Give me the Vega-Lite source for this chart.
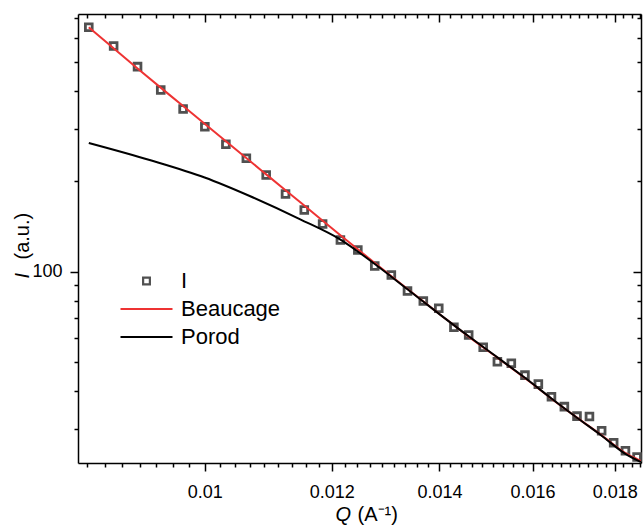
{
  "$schema": "https://vega.github.io/schema/vega-lite/v6.json",
  "width": 563,
  "height": 449,
  "autosize": {"type": "none"},
  "padding": {"left": 78, "top": 14, "right": 2, "bottom": 63},
  "background": "white",
  "config": {
    "view": {"stroke": null},
    "axis": {
      "domainColor": "black", "domainWidth": 1.5, "tickColor": "black", "tickWidth": 1.5,
      "labelFont": "Liberation Sans", "labelFontSize": 18, "labelColor": "black",
      "titleFont": "Liberation Sans", "titleFontSize": 20, "titleColor": "black", "titleFontWeight": "normal",
      "grid": false, "labelOverlap": false, "labelFlush": false, "labelBound": false
    },
    "legend": {"labelFont": "Liberation Sans", "labelFontSize": 22, "labelColor": "black"}
  },
  "data": {"values": [
    {"series": "I", "q": 0.00847, "i": 652.7},
    {"series": "I", "q": 0.008777, "i": 565.4},
    {"series": "I", "q": 0.009083, "i": 482.5},
    {"series": "I", "q": 0.00939, "i": 403.4},
    {"series": "I", "q": 0.009696, "i": 348.6},
    {"series": "I", "q": 0.010003, "i": 304.3},
    {"series": "I", "q": 0.010309, "i": 265.9},
    {"series": "I", "q": 0.010616, "i": 238.8},
    {"series": "I", "q": 0.010922, "i": 210.1},
    {"series": "I", "q": 0.011229, "i": 181.6},
    {"series": "I", "q": 0.011535, "i": 160.6},
    {"series": "I", "q": 0.011842, "i": 144.2},
    {"series": "I", "q": 0.012148, "i": 127.5},
    {"series": "I", "q": 0.012455, "i": 118.1},
    {"series": "I", "q": 0.012761, "i": 104.5},
    {"series": "I", "q": 0.013068, "i": 97.5},
    {"series": "I", "q": 0.013374, "i": 86.2},
    {"series": "I", "q": 0.013681, "i": 79.9},
    {"series": "I", "q": 0.013987, "i": 75.5},
    {"series": "I", "q": 0.014294, "i": 65.3},
    {"series": "I", "q": 0.0146, "i": 61.5},
    {"series": "I", "q": 0.014907, "i": 56.0},
    {"series": "I", "q": 0.015213, "i": 50.1},
    {"series": "I", "q": 0.01552, "i": 49.5},
    {"series": "I", "q": 0.015826, "i": 45.2},
    {"series": "I", "q": 0.016133, "i": 42.2},
    {"series": "I", "q": 0.016439, "i": 38.3},
    {"series": "I", "q": 0.016746, "i": 35.5},
    {"series": "I", "q": 0.017052, "i": 33.0},
    {"series": "I", "q": 0.017359, "i": 32.9},
    {"series": "I", "q": 0.017665, "i": 29.5},
    {"series": "I", "q": 0.017972, "i": 26.9},
    {"series": "I", "q": 0.018278, "i": 25.3},
    {"series": "I", "q": 0.018585, "i": 24.1},
    {"series": "Beaucage", "q": 0.00847, "i": 652.7},
    {"series": "Beaucage", "q": 0.009083, "i": 475.7},
    {"series": "Beaucage", "q": 0.009696, "i": 356.5},
    {"series": "Beaucage", "q": 0.010309, "i": 272.1},
    {"series": "Beaucage", "q": 0.010922, "i": 211.1},
    {"series": "Beaucage", "q": 0.011535, "i": 166.1},
    {"series": "Beaucage", "q": 0.012148, "i": 132.3},
    {"series": "Beaucage", "q": 0.012761, "i": 106.9},
    {"series": "Beaucage", "q": 0.013374, "i": 87.6},
    {"series": "Beaucage", "q": 0.013987, "i": 72.6},
    {"series": "Beaucage", "q": 0.0146, "i": 60.75},
    {"series": "Beaucage", "q": 0.015213, "i": 51.7},
    {"series": "Beaucage", "q": 0.015826, "i": 44.2},
    {"series": "Beaucage", "q": 0.016439, "i": 37.73},
    {"series": "Beaucage", "q": 0.017052, "i": 32.63},
    {"series": "Beaucage", "q": 0.017665, "i": 28.47},
    {"series": "Beaucage", "q": 0.018278, "i": 24.83},
    {"series": "Beaucage", "q": 0.01869, "i": 23.39},
    {"series": "Porod", "q": 0.00847, "i": 268.6},
    {"series": "Porod", "q": 0.009242, "i": 235.7},
    {"series": "Porod", "q": 0.01, "i": 206.1},
    {"series": "Porod", "q": 0.010667, "i": 178.8},
    {"series": "Porod", "q": 0.01146, "i": 149.8},
    {"series": "Porod", "q": 0.012148, "i": 128.0},
    {"series": "Porod", "q": 0.012761, "i": 106.1},
    {"series": "Porod", "q": 0.013374, "i": 87.4},
    {"series": "Porod", "q": 0.013987, "i": 72.5},
    {"series": "Porod", "q": 0.0146, "i": 60.9},
    {"series": "Porod", "q": 0.015213, "i": 51.8},
    {"series": "Porod", "q": 0.015826, "i": 44.3},
    {"series": "Porod", "q": 0.016439, "i": 37.8},
    {"series": "Porod", "q": 0.017052, "i": 32.6},
    {"series": "Porod", "q": 0.017665, "i": 28.4},
    {"series": "Porod", "q": 0.018278, "i": 24.7},
    {"series": "Porod", "q": 0.01869, "i": 23.2}
  ]},
  "layer": [
    {
      "transform": [{"filter": "datum.series === 'I'"}],
      "mark": {"type": "point", "filled": false, "strokeWidth": 2.8, "size": 2704, "opacity": 1, "clip": false},
      "encoding": {
        "x": {
          "field": "q", "type": "quantitative",
          "scale": {"type": "log", "domain": [0.00834, 0.01869], "nice": false},
          "axis": {
            "orient": "bottom",
            "values": [0.008444, 0.008667, 0.008889, 0.009111, 0.009333, 0.009556, 0.009778, 0.01, 0.010222, 0.010444, 0.010667, 0.010889, 0.011111, 0.011333, 0.011556, 0.011778, 0.012, 0.012222, 0.012444, 0.012667, 0.012889, 0.013111, 0.013333, 0.013556, 0.013778, 0.014, 0.014222, 0.014444, 0.014667, 0.014889, 0.015111, 0.015333, 0.015556, 0.015778, 0.016, 0.016222, 0.016444, 0.016667, 0.016889, 0.017111, 0.017333, 0.017556, 0.017778, 0.018, 0.018222, 0.018444, 0.018667],
            "labelExpr": "indexof([0.01,0.012,0.014,0.016,0.018], datum.value) >= 0 ? format(datum.value, '~g') : ''",
            "tickSize": {"condition": {"test": "indexof([0.01,0.012,0.014,0.016,0.018], datum.value) >= 0", "value": 8}, "value": 4},
            "labelPadding": 12,
            "title": "(A⁻¹)", "titleX": 279, "titleY": 57, "titleAlign": "left", "titleBaseline": "alphabetic"
          }
        },
        "y": {
          "field": "i", "type": "quantitative",
          "scale": {"type": "log", "domain": [23.03, 722.8], "nice": false},
          "axis": {
            "orient": "left",
            "values": [30, 40, 50, 60, 70, 80, 90, 100, 200, 300, 400, 500, 600, 700],
            "labelExpr": "datum.value == 100 ? '100' : ''",
            "tickSize": {"condition": {"test": "datum.value == 100", "value": 8}, "value": 4},
            "labelPadding": 8,
            "title": "(a.u.)", "titleX": -50, "titleY": 245, "titleAngle": 270, "titleAlign": "left", "titleBaseline": "alphabetic"
          }
        },
        "color": {
          "field": "series", "type": "nominal",
          "scale": {"domain": ["I", "Beaucage", "Porod"], "range": ["#505050", "#ee3333", "#000000"]},
          "legend": {
            "title": null, "orient": "none", "legendX": 41, "legendY": 253,
            "symbolSize": 2704, "clipHeight": 28, "rowPadding": 0, "padding": 0, "labelOffset": 7,
            "symbolStrokeWidth": 2.2, "symbolOpacity": 1
          }
        },
        "shape": {
          "field": "series", "type": "nominal",
          "scale": {"domain": ["I", "Beaucage", "Porod"], "range": ["M-0.13,-0.13H0.13V0.13H-0.13Z", "M-1,0H1", "M-1,0H1"]},
          "legend": {
            "title": null, "orient": "none", "legendX": 41, "legendY": 253,
            "symbolSize": 2704, "clipHeight": 28, "rowPadding": 0, "padding": 0, "labelOffset": 7,
            "symbolStrokeWidth": 2.2, "symbolOpacity": 1
          }
        }
      }
    },
    {
      "transform": [{"filter": "datum.series === 'Beaucage'"}],
      "mark": {"type": "line", "strokeWidth": 2, "interpolate": "monotone", "clip": true},
      "encoding": {
        "x": {
          "field": "q", "type": "quantitative",
          "scale": {"type": "log", "domain": [0.00834, 0.01869], "nice": false},
          "axis": {
            "orient": "top", "labels": false,
            "values": [0.008444, 0.008667, 0.008889, 0.009111, 0.009333, 0.009556, 0.009778, 0.01, 0.010222, 0.010444, 0.010667, 0.010889, 0.011111, 0.011333, 0.011556, 0.011778, 0.012, 0.012222, 0.012444, 0.012667, 0.012889, 0.013111, 0.013333, 0.013556, 0.013778, 0.014, 0.014222, 0.014444, 0.014667, 0.014889, 0.015111, 0.015333, 0.015556, 0.015778, 0.016, 0.016222, 0.016444, 0.016667, 0.016889, 0.017111, 0.017333, 0.017556, 0.017778, 0.018, 0.018222, 0.018444, 0.018667],
            "tickSize": {"condition": {"test": "indexof([0.01,0.012,0.014,0.016,0.018], datum.value) >= 0", "value": -8}, "value": -4},
            "title": "Q", "titleFontStyle": "italic", "titleX": 257, "titleY": 506, "titleAlign": "left", "titleBaseline": "alphabetic"
          }
        },
        "y": {
          "field": "i", "type": "quantitative",
          "scale": {"type": "log", "domain": [23.03, 722.8], "nice": false},
          "axis": {
            "orient": "right", "labels": false,
            "values": [30, 40, 50, 60, 70, 80, 90, 100, 200, 300, 400, 500, 600, 700],
            "tickSize": {"condition": {"test": "datum.value == 100", "value": -8}, "value": -4},
            "title": "I", "titleFontStyle": "italic", "titleX": -613, "titleY": 264, "titleAngle": 270, "titleAlign": "left", "titleBaseline": "alphabetic"
          }
        },
        "color": {"field": "series", "type": "nominal", "scale": {"domain": ["I", "Beaucage", "Porod"], "range": ["#505050", "#ee3333", "#000000"]}, "legend": null}
      }
    },
    {
      "transform": [{"filter": "datum.series === 'Porod'"}],
      "mark": {"type": "line", "strokeWidth": 2, "interpolate": "monotone", "clip": true},
      "encoding": {
        "x": {"field": "q", "type": "quantitative", "scale": {"type": "log", "domain": [0.00834, 0.01869], "nice": false}, "axis": null},
        "y": {"field": "i", "type": "quantitative", "scale": {"type": "log", "domain": [23.03, 722.8], "nice": false}, "axis": null},
        "color": {"field": "series", "type": "nominal", "scale": {"domain": ["I", "Beaucage", "Porod"], "range": ["#505050", "#ee3333", "#000000"]}, "legend": null}
      }
    }
  ],
  "resolve": {"axis": {"x": "independent", "y": "independent"}}
}
